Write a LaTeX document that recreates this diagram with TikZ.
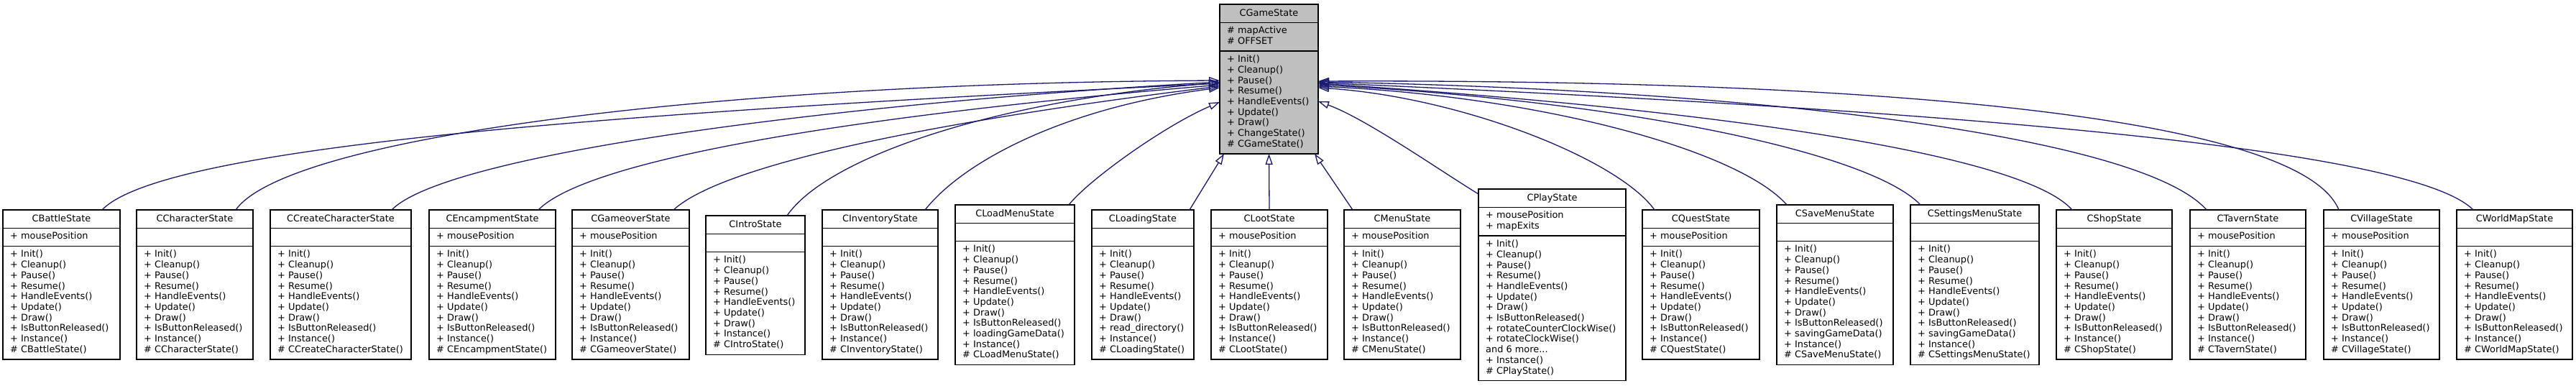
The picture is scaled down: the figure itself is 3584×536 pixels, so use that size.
\documentclass[tikz,border=0pt]{standalone}
\usepackage{fontspec}
\setmainfont{DejaVu Sans}
\usetikzlibrary{arrows.meta}
\definecolor{edgeblue}{RGB}{25,25,112}
\definecolor{basefill}{RGB}{191,191,191}
\def\umlfill{white}
\def\moretext{and 6 more...}
% #1 name, #2 left x, #3 right x, #4 top y, #5 title, #6 attr rows, #7 attrs, #8 method rows, #9 methods
\newcommand\umlclass[9]{%
  \pgfmathsetmacro\uW{#3-#2}%
  \pgfmathsetmacro\uA{25.2}%
  \pgfmathsetmacro\uB{#6*14.7+10.5}%
  \pgfmathsetmacro\uC{#8*14.7+10.5}%
  \pgfmathsetmacro\uH{\uA+\uB+\uC}%
  \pgfmathsetmacro\uAB{\uA+\uB}%
  \node[clsbox, fill=\umlfill, minimum width=\uW pt, minimum height=\uH pt, anchor=north west] (#1) at (#2,#4) {};
  \draw[clssep] ([yshift=-\uA pt]#1.north west) -- ([yshift=-\uA pt]#1.north east);
  \draw[clssep] ([yshift=-\uAB pt]#1.north west) -- ([yshift=-\uAB pt]#1.north east);
  \node[clstext, anchor=base] (#1-t) at ([yshift=-16pt]#1.north) {#5};
  \foreach \t [count=\i] in {#7} {%
    \pgfmathsetmacro\yy{\uA+15.5+(\i-1)*14.7}%
    \node[clstext, anchor=base west] (#1-a\i) at ([xshift=10pt,yshift=-\yy pt]#1.north west) {\t};
  }%
  \foreach \t [count=\i] in {#9} {%
    \pgfmathsetmacro\yy{\uAB+15.5+(\i-1)*14.7}%
    \node[clstext, anchor=base west] (#1-m\i) at ([xshift=10pt,yshift=-\yy pt]#1.north west) {\t};
  }%
}
\begin{document}
\begin{tikzpicture}[x=1pt,y=-1pt,
  clsbox/.style={draw=black, line width=1.4pt, inner sep=0pt, outer sep=0pt},
  clssep/.style={draw=black, line width=1.4pt},
  clstext/.style={inner sep=0pt, font=\fontsize{12.9pt}{14.7pt}\selectfont},
  inh/.style={draw=edgeblue, line width=1.3pt, -{Triangle[open, length=15pt, width=10pt]}}]
\fill[white] (0,0) rectangle (3584,536);
\useasboundingbox (0,0) rectangle (3584,536);

\def\umlfill{basefill}
\umlclass{base}{1697}{1834}{6}{CGameState}{2}{\# mapActive, \# OFFSET}{9}{+ Init(), + Cleanup(), + Pause(), + Resume(), + HandleEvents(), + Update(), + Draw(), + ChangeState(), \# CGameState()}
\def\umlfill{white}

\umlclass{battle}{4}{167}{292}{CBattleState}{1}{+ mousePosition}{10}{+ Init(), + Cleanup(), + Pause(), + Resume(), + HandleEvents(), + Update(), + Draw(), + IsButtonReleased(), + Instance(), \# CBattleState()}
\umlclass{character}{190}{352}{292}{CCharacterState}{1}{}{10}{+ Init(), + Cleanup(), + Pause(), + Resume(), + HandleEvents(), + Update(), + Draw(), + IsButtonReleased(), + Instance(), \# CCharacterState()}
\umlclass{create}{376}{572}{292}{CCreateCharacterState}{1}{}{10}{+ Init(), + Cleanup(), + Pause(), + Resume(), + HandleEvents(), + Update(), + Draw(), + IsButtonReleased(), + Instance(), \# CCreateCharacterState()}
\umlclass{encamp}{597}{773}{292}{CEncampmentState}{1}{+ mousePosition}{10}{+ Init(), + Cleanup(), + Pause(), + Resume(), + HandleEvents(), + Update(), + Draw(), + IsButtonReleased(), + Instance(), \# CEncampmentState()}
\umlclass{gameover}{796}{959}{292}{CGameoverState}{1}{+ mousePosition}{10}{+ Init(), + Cleanup(), + Pause(), + Resume(), + HandleEvents(), + Update(), + Draw(), + IsButtonReleased(), + Instance(), \# CGameoverState()}
\umlclass{intro}{982}{1120}{300}{CIntroState}{1}{}{9}{+ Init(), + Cleanup(), + Pause(), + Resume(), + HandleEvents(), + Update(), + Draw(), + Instance(), \# CIntroState()}
\umlclass{inventory}{1144}{1305}{292}{CInventoryState}{1}{}{10}{+ Init(), + Cleanup(), + Pause(), + Resume(), + HandleEvents(), + Update(), + Draw(), + IsButtonReleased(), + Instance(), \# CInventoryState()}
\umlclass{loadmenu}{1329}{1495}{285}{CLoadMenuState}{1}{}{11}{+ Init(), + Cleanup(), + Pause(), + Resume(), + HandleEvents(), + Update(), + Draw(), + IsButtonReleased(), + loadingGameData(), + Instance(), \# CLoadMenuState()}
\umlclass{loading}{1519}{1661}{292}{CLoadingState}{1}{}{10}{+ Init(), + Cleanup(), + Pause(), + Resume(), + HandleEvents(), + Update(), + Draw(), + read\_directory(), + Instance(), \# CLoadingState()}
\umlclass{loot}{1685}{1847}{292}{CLootState}{1}{+ mousePosition}{10}{+ Init(), + Cleanup(), + Pause(), + Resume(), + HandleEvents(), + Update(), + Draw(), + IsButtonReleased(), + Instance(), \# CLootState()}
\umlclass{menu}{1870}{2032}{292}{CMenuState}{1}{+ mousePosition}{10}{+ Init(), + Cleanup(), + Pause(), + Resume(), + HandleEvents(), + Update(), + Draw(), + IsButtonReleased(), + Instance(), \# CMenuState()}
\umlclass{play}{2057}{2262}{263}{CPlayState}{2}{+ mousePosition, + mapExits}{13}{+ Init(), + Cleanup(), + Pause(), + Resume(), + HandleEvents(), + Update(), + Draw(), + IsButtonReleased(), + rotateCounterClockWise(), + rotateClockWise(), \moretext, + Instance(), \# CPlayState()}
\umlclass{quest}{2285}{2448}{292}{CQuestState}{1}{+ mousePosition}{10}{+ Init(), + Cleanup(), + Pause(), + Resume(), + HandleEvents(), + Update(), + Draw(), + IsButtonReleased(), + Instance(), \# CQuestState()}
\umlclass{savemenu}{2472}{2634}{285}{CSaveMenuState}{1}{}{11}{+ Init(), + Cleanup(), + Pause(), + Resume(), + HandleEvents(), + Update(), + Draw(), + IsButtonReleased(), + savingGameData(), + Instance(), \# CSaveMenuState()}
\umlclass{settings}{2658}{2837}{285}{CSettingsMenuState}{1}{}{11}{+ Init(), + Cleanup(), + Pause(), + Resume(), + HandleEvents(), + Update(), + Draw(), + IsButtonReleased(), + savingGameData(), + Instance(), \# CSettingsMenuState()}
\umlclass{shop}{2861}{3022}{292}{CShopState}{1}{}{10}{+ Init(), + Cleanup(), + Pause(), + Resume(), + HandleEvents(), + Update(), + Draw(), + IsButtonReleased(), + Instance(), \# CShopState()}
\umlclass{tavern}{3047}{3208}{292}{CTavernState}{1}{+ mousePosition}{10}{+ Init(), + Cleanup(), + Pause(), + Resume(), + HandleEvents(), + Update(), + Draw(), + IsButtonReleased(), + Instance(), \# CTavernState()}
\umlclass{village}{3233}{3394}{292}{CVillageState}{1}{+ mousePosition}{10}{+ Init(), + Cleanup(), + Pause(), + Resume(), + HandleEvents(), + Update(), + Draw(), + IsButtonReleased(), + Instance(), \# CVillageState()}
\umlclass{worldmap}{3418}{3579}{292}{CWorldMapState}{1}{}{10}{+ Init(), + Cleanup(), + Pause(), + Resume(), + HandleEvents(), + Update(), + Draw(), + IsButtonReleased(), + Instance(), \# CWorldMapState()}

% inheritance connectors
\draw[inh] ([xshift=138pt]battle.north west) .. controls (230,200) and (900,155) .. ([yshift=-110pt]base.north west);
\draw[inh] ([xshift=138pt]character.north west) .. controls (400,190) and (1000,115) .. ([yshift=-106pt]base.north west);
\draw[inh] ([xshift=169pt]create.north west) .. controls (620,215) and (1150,145) .. ([yshift=-108pt]base.north west);
\draw[inh] ([xshift=152pt]encamp.north west) .. controls (820,220) and (1200,160) .. ([yshift=-112pt]base.north west);
\draw[inh] ([xshift=141pt]gameover.north west) .. controls (1010,225) and (1330,165) .. ([yshift=-114pt]base.north west);
\draw[inh] ([xshift=113pt]intro.north west) .. controls (1150,220) and (1380,140) .. ([yshift=-109pt]base.north west);
\draw[inh] ([xshift=143pt]inventory.north west) .. controls (1340,225) and (1480,150) .. ([yshift=-116pt]base.north west);
\draw[inh] ([xshift=158pt]loadmenu.north west) .. controls (1515,250) and (1620,175) .. ([yshift=-136pt]base.north west);
\draw[inh] ([xshift=136pt]loading.north west) -- ([xshift=6pt]base.south west);
\draw[inh] (loot.north) -- (base.south);
\draw[inh] ([xshift=12pt]menu.north west) -- ([xshift=-5pt]base.south east);
\draw[inh] ([yshift=-7pt]play.north west) .. controls (2000,235) and (1900,165) .. ([yshift=-135pt]base.north east);
\draw[inh] ([xshift=17pt]quest.north west) .. controls (2250,220) and (2030,135) .. ([yshift=-116pt]base.north east);
\draw[inh] ([xshift=14pt]savemenu.north west) .. controls (2420,210) and (2150,135) .. ([yshift=-114pt]base.north east);
\draw[inh] ([xshift=14pt]settings.north west) .. controls (2600,210) and (2250,140) .. ([yshift=-112pt]base.north east);
\draw[inh] ([xshift=22pt]shop.north west) .. controls (2810,210) and (2350,150) .. ([yshift=-110pt]base.north east);
\draw[inh] ([xshift=23pt]tavern.north west) .. controls (2980,190) and (2450,125) .. ([yshift=-108pt]base.north east);
\draw[inh] ([xshift=21pt]village.north west) .. controls (3200,160) and (2600,110) .. ([yshift=-107pt]base.north east);
\draw[inh] ([xshift=23pt]worldmap.north west) .. controls (3350,200) and (2630,150) .. ([yshift=-109pt]base.north east);
\end{tikzpicture}
\end{document}
